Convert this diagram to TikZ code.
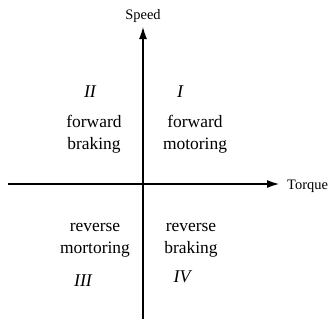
\documentclass[tikz,border=0pt]{standalone}
\usepackage{fontspec}
\setmainfont{Liberation Serif}
\usetikzlibrary{arrows.meta}
\begin{document}
\begin{tikzpicture}[x=1bp,y=-1bp,
  axis/.style={line width=1.1bp,-{Latex[length=12bp,width=8bp]}},
  axislabel/.style={inner sep=0pt,font=\fontsize{14.5}{17}\selectfont},
  quadtext/.style={inner sep=0pt,align=center,font=\fontsize{17.5}{22}\selectfont},
  numeral/.style={inner sep=0pt,font=\fontsize{18}{22}\selectfont\itshape}]
\useasboundingbox (0,0) rectangle (329,321);
% axis end points
\coordinate (xl) at (8,184);
\coordinate (xr) at (279,184);
\coordinate (yb) at (143,319);
\coordinate (yt) at (143,27);
\draw[axis] (xl) -- (xr);
\draw[axis] (yb) -- (yt);
% axis labels
\node[axislabel,anchor=base] (speed) at (143,19) {Speed};
\node[axislabel,anchor=base west] (torque) at (287,189) {Torque};
% quadrant numerals
\node[numeral] (q2) at (90,92) {II};
\node[numeral] (q1) at (180,92) {I};
\node[numeral] (q3) at (83,281) {III};
\node[numeral] (q4) at (182,277) {IV};
% quadrant descriptions
\node[quadtext] (t2) at (94,134.5) {forward\\braking};
\node[quadtext] (t1) at (195,134.5) {forward\\motoring};
\node[quadtext] (t3) at (95,240.5) {reverse\\mortoring};
\node[quadtext] (t4) at (191,240.5) {reverse\\braking};
\end{tikzpicture}
\end{document}
